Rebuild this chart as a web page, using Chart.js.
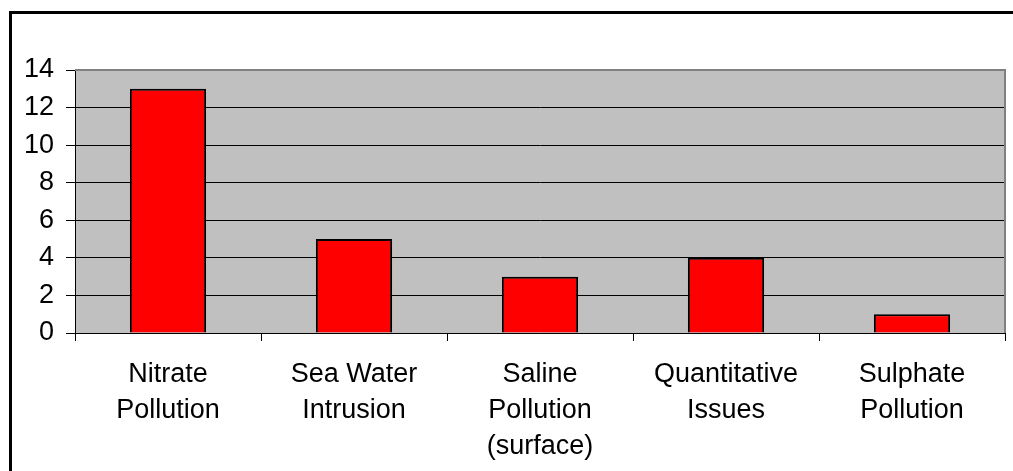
<!DOCTYPE html>
<html><head><meta charset="utf-8">
<script src="https://cdn.jsdelivr.net/npm/chart.js@4.4.0/dist/chart.umd.min.js"></script>
<style>html,body{margin:0;padding:0;background:#fff;}#wrap{width:1013px;height:471px;position:relative;}</style>
</head><body><div id="wrap"><canvas id="c" width="1013" height="471"></canvas></div>
<script>
const categories = [["Nitrate","Pollution"],["Sea Water","Intrusion"],["Saline","Pollution","(surface)"],["Quantitative","Issues"],["Sulphate","Pollution"]];
const values = [13, 5, 3, 4, 1];
const yTicks = [0, 2, 4, 6, 8, 10, 12, 14];

const decor = {
  id: 'decor',
  beforeDraw(chart) {
    const {ctx, chartArea: a} = chart;
    ctx.save();
    ctx.fillStyle = '#C0C0C0';
    ctx.fillRect(a.left, a.top, a.right - a.left, a.bottom - a.top);
    ctx.restore();
  },
  afterDraw(chart) {
    const {ctx, chartArea: a} = chart;
    ctx.save();
    ctx.strokeStyle = '#808080';
    ctx.lineWidth = 2;
    ctx.beginPath();
    ctx.moveTo(a.left, a.top); ctx.lineTo(a.right, a.top); ctx.lineTo(a.right, a.bottom);
    ctx.stroke();
    ctx.strokeStyle = '#000';
    ctx.lineWidth = 3;
    ctx.beginPath();
    ctx.moveTo(10.5, 471); ctx.lineTo(10.5, 12.5); ctx.lineTo(1013, 12.5);
    ctx.stroke();
    ctx.restore();
  }
};

new Chart(document.getElementById('c'), {
  type: 'bar',
  data: { labels: categories, datasets: [{ data: values, backgroundColor: '#FF0000', borderColor: '#000', borderWidth: 2, categoryPercentage: 1, barPercentage: 0.41 }] },
  options: {
    responsive: false, animation: false, devicePixelRatio: 1,
    layout: { padding: { top: 70, right: 8, left: 0, bottom: 0 } },
    plugins: { legend: { display: false }, tooltip: { enabled: false } },
    scales: {
      x: {
        grid: { offset: true, drawOnChartArea: false, color: '#000', tickLength: 8, lineWidth: 1 },
        border: { color: '#000', width: 1 },
        ticks: { color: '#000', font: { family: 'Liberation Sans, Arial', size: 27, lineHeight: 1.333 }, padding: 16, maxRotation: 0, autoSkip: false },
        afterFit(s) { s.height = 138; }
      },
      y: {
        min: 0, max: 14,
        afterBuildTicks(s) { s.ticks = yTicks.map(v => ({ value: v })); },
        grid: { color: '#000', tickLength: 9, lineWidth: 1 },
        border: { color: '#000', width: 1 },
        ticks: { color: '#000', font: { family: 'Liberation Sans, Arial', size: 27 }, padding: 12 },
        afterFit(s) { s.width = 75; }
      }
    }
  },
  plugins: [decor]
});
</script></body></html>
